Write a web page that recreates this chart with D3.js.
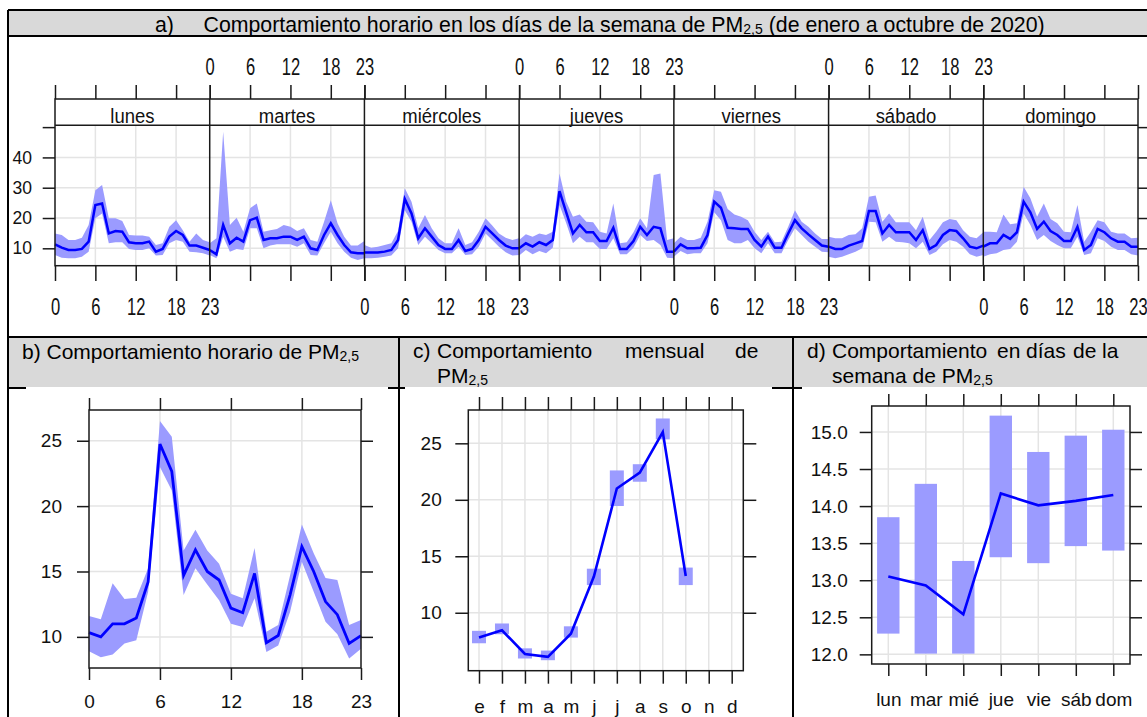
<!DOCTYPE html>
<html>
<head>
<meta charset="utf-8">
<script src="https://cdn.jsdelivr.net/npm/d3@7"></script>
<style>
body { margin: 0; background: #fff; }
svg { display: block; font-family: 'Liberation Sans', Arial, sans-serif; }
</style>
</head>
<body>
<svg id="fig" width="1147" height="717"></svg>
<script>
// ---- data ----
const dias = ["lunes", "martes", "miércoles", "jueves", "viernes", "sábado", "domingo"];
const hours = [0,1,2,3,4,5,6,7,8,9,10,11,12,13,14,15,16,17,18,19,20,21,22,23];
const hourTicks = [0, 6, 12, 18, 23];

// panel a: mean and confidence band per weekday (rows) and hour (cols)
const dayHourMean = [
  [11.3,10.2,9.45,9.45,9.8,12.2,24.3,24.8,14.9,15.7,15.5,12.0,11.65,11.65,12.2,8.9,9.8,13.85,15.7,14.4,10.9,10.9,10.2,9.45],
  [9.45,8.0,17.7,11.65,13.5,12.2,19.3,20.1,12.75,13.3,13.3,13.85,13.85,12.75,13.85,10.0,9.45,14.4,18.25,14.4,11.1,8.7,8.35,8.35],
  [8.6,8.6,8.6,8.9,9.45,12.75,26.3,21.5,13.3,16.6,13.85,11.1,9.8,9.8,12.75,9.1,9.8,12.75,17.1,14.9,12.75,10.9,10.0,10.0],
  [10.0,11.65,10.55,12.0,11.1,12.75,28.9,21.9,14.9,17.7,15.3,15.3,12.4,12.4,16.8,9.8,9.8,12.4,17.1,14.4,17.1,16.6,8.9,8.9],
  [8.9,11.3,10.0,10.0,10.2,14.4,25.4,23.4,16.8,16.6,16.4,16.4,12.75,10.55,13.85,10.2,10.2,14.9,19.3,16.6,14.6,12.75,10.9,10.55],
  [10.55,9.8,9.8,10.9,11.65,12.4,22.3,22.3,14.9,17.7,15.3,15.3,15.3,12.75,16.0,9.8,11.1,14.4,16.0,15.7,13.3,10.55,10.0,10.9],
  [10.55,11.65,11.65,14.4,13.1,15.3,25.4,21.9,16.4,18.8,15.7,14.4,12.4,12.4,17.1,9.45,11.1,16.4,15.3,13.3,12.2,12.2,10.55,10.55]
];
const dayHourLower = [
  [7.8,6.9,6.7,6.7,7.25,8.9,19.9,21.5,11.65,12.0,12.0,9.8,9.45,9.45,10.0,7.6,7.8,11.65,12.75,12.2,8.9,8.7,8.35,7.6],
  [7.8,6.7,13.85,8.9,9.8,9.45,16.6,16.6,10.0,10.9,11.3,11.3,11.3,10.55,11.65,7.8,7.6,11.65,15.5,11.65,8.9,6.9,6.15,6.7],
  [6.7,6.7,6.9,7.25,7.6,10.0,22.6,18.8,11.1,13.85,11.65,9.45,8.35,8.35,10.55,7.8,8.0,10.55,14.9,12.75,10.55,8.7,7.6,7.8],
  [7.6,9.45,8.0,9.1,8.35,10.2,24.3,18.25,11.65,13.85,12.0,12.0,9.8,9.8,13.3,8.0,8.0,10.2,14.4,12.4,12.75,11.1,6.9,6.7],
  [7.25,9.1,8.0,8.35,8.35,11.65,21.9,19.3,12.75,11.65,11.65,12.75,10.0,8.35,11.65,8.35,8.35,12.75,16.6,14.4,12.2,10.55,8.9,8.7],
  [7.25,6.7,7.25,8.0,8.9,10.0,18.8,18.6,12.2,13.85,12.2,12.0,11.65,10.0,12.2,7.8,8.9,11.3,12.75,12.2,10.55,8.0,7.25,7.8],
  [7.25,8.0,8.35,9.45,9.8,12.2,21.5,17.7,12.75,14.4,12.4,11.1,10.0,10.0,13.85,7.8,8.35,13.3,12.4,10.55,9.45,9.45,8.0,7.6]
];
const dayHourUpper = [
  [14.9,14.4,12.75,12.75,13.5,17.7,29.2,30.9,19.9,19.9,19.0,14.4,14.2,14.2,13.85,11.1,11.65,17.1,19.3,16.0,12.2,14.9,12.75,12.0],
  [11.65,13.3,48.5,17.7,20.1,15.5,23.2,24.8,15.5,16.0,16.4,17.7,17.1,15.7,16.6,12.75,12.2,18.8,25.9,18.25,13.85,10.9,10.9,12.4],
  [11.1,10.2,10.55,11.1,11.65,15.7,29.8,25.4,16.6,21.0,16.6,13.3,11.65,11.65,16.6,11.1,12.0,15.5,19.9,17.5,14.9,13.5,12.75,13.3],
  [12.75,14.6,13.85,14.9,14.4,15.5,34.7,25.4,20.4,21.2,18.8,18.6,15.5,14.9,24.8,11.65,12.0,15.3,19.9,16.6,34.2,34.7,12.75,13.3],
  [11.65,13.85,12.75,12.75,13.5,18.8,29.2,28.7,23.0,21.2,20.4,19.3,15.5,12.75,15.5,12.0,12.2,17.1,22.6,18.8,17.1,14.9,13.1,13.1],
  [13.85,13.3,13.3,14.4,14.6,16.6,27.0,27.4,18.8,21.5,18.6,18.6,18.6,16.0,20.4,12.75,15.5,18.6,19.7,19.3,16.0,13.85,13.3,15.3],
  [15.5,15.5,15.3,21.2,17.9,18.25,30.3,26.5,20.4,24.8,19.7,18.25,15.5,15.3,24.3,12.2,15.5,19.3,18.6,15.5,14.9,14.9,13.3,13.5]
];

// panel b: hourly
const hourMean  = [10.33,10.0,11.0,11.0,11.45,14.2,24.75,22.65,14.7,16.65,15.0,14.35,12.2,11.85,14.85,9.55,10.1,13.2,16.9,15.0,12.7,11.7,9.5,10.1];
const hourLower = [8.9,8.45,8.65,9.5,9.75,13.45,23.0,21.2,13.2,15.25,14.0,12.8,11.0,10.75,12.95,8.85,9.35,11.9,15.75,13.45,11.15,10.2,8.35,9.1];
const hourUpper = [11.6,11.35,14.1,12.9,13.0,15.25,26.5,25.3,16.6,18.2,16.6,15.6,13.3,12.95,16.8,10.4,10.9,14.7,18.6,16.4,14.5,14.35,10.9,11.3];

// panel c: monthly
const monthLabels = ["e","f","m","a","m","j","j","a","s","o","n","d"];
const monthIdx    = [0,1,2,3,4,5,6,7,8,9,10,11];
const monthMean   = [7.8,8.45,6.35,6.1,8.15,13.2,21.0,22.4,26.0,13.25,null,null];
const monthLower  = [7.3,8.1,5.95,5.8,7.8,12.45,19.45,21.6,25.35,12.45,null,null];
const monthUpper  = [8.4,9.05,6.85,6.65,8.8,13.9,22.6,23.15,27.2,14.0,null,null];

// panel d: weekday
const diaCorto  = ["lun","mar","mié","jue","vie","sáb","dom"];
const diaMean   = [13.05,12.93,12.54,14.17,14.01,14.07,14.15];
const diaLower  = [12.28,12.01,12.01,13.31,13.23,13.46,13.40];
const diaUpper  = [13.85,14.30,13.26,15.22,14.73,14.95,15.03];

const fillCI = "#9b9bff";
const lineCol = "#0000ff";
const gridCol = "#e4e4e4";
const ink = "#111";

const svg = d3.select("#fig");

// ---- frame of the figure table ----
svg.append("rect").attr("x", 8).attr("y", 10).attr("width", 1139).attr("height", 26).attr("fill", "#d9d9d9");
svg.append("rect").attr("x", 9).attr("y", 338).attr("width", 390).attr("height", 50).attr("fill", "#d9d9d9");
svg.append("rect").attr("x", 400).attr("y", 338).attr("width", 393).attr("height", 50).attr("fill", "#d9d9d9");
svg.append("rect").attr("x", 794).attr("y", 338).attr("width", 353).attr("height", 50).attr("fill", "#d9d9d9");

const frame = svg.append("g").attr("stroke", "#000").attr("stroke-width", 2);
[[8, 10, 1147, 10], [8, 36, 1147, 36], [8, 337, 1147, 337], [8, 388, 1147, 388]]
  .forEach(d => frame.append("line").attr("x1", d[0]).attr("y1", d[1]).attr("x2", d[2]).attr("y2", d[3]));

// the pasted chart images hide the line under the headers
svg.append("rect").attr("x", 26).attr("y", 387).attr("width", 362).attr("height", 330).attr("fill", "#fff");
svg.append("rect").attr("x", 405).attr("y", 387).attr("width", 367).attr("height", 330).attr("fill", "#fff");
svg.append("rect").attr("x", 802).attr("y", 387).attr("width", 345).attr("height", 330).attr("fill", "#fff");

[[8, 10, 8, 717], [399, 337, 399, 717], [793, 337, 793, 717]]
  .forEach(d => frame.append("line").attr("x1", d[0]).attr("y1", d[1]).attr("x2", d[2]).attr("y2", d[3]));

// header texts with PM2,5 subscript
function pmText(x, y, before, after, size = 21) {
  const t = svg.append("text").attr("x", x).attr("y", y).attr("font-size", size).attr("fill", "#000");
  t.append("tspan").text(before + "PM");
  t.append("tspan").attr("font-size", 14).attr("dy", 2).text("2,5");
  if (after) t.append("tspan").attr("dy", -2).text(after);
  return t;
}
svg.append("text").attr("x", 155).attr("y", 32).attr("font-size", 21.3).text("a)");
pmText(203.5, 32, "Comportamiento horario en los días de la semana de ", " (de enero a octubre de 2020)", 21.3);
pmText(22, 359, "b) Comportamiento horario de ", "");
[["c)", 413], ["Comportamiento", 437], ["mensual", 625], ["de", 735]]
  .forEach(d => svg.append("text").attr("x", d[1]).attr("y", 358).attr("font-size", 21).text(d[0]));
pmText(437, 383, "", "");
[["d)", 807], ["Comportamiento", 832], ["en", 997], ["días", 1026], ["de", 1073], ["la", 1102]]
  .forEach(d => svg.append("text").attr("x", d[1]).attr("y", 358).attr("font-size", 21).text(d[0]));
pmText(832, 383, "semana de ", "");

function styleAxis(g, size) {
  g.attr("font-size", null).attr("font-family", null);
  g.select(".domain").remove();
  g.selectAll("line").attr("stroke", "#1a1a1a").attr("stroke-width", 1.5);
  g.selectAll("text").attr("fill", ink).style("font-size", size + "px");
  return g;
}

// ---- panel a: hour x weekday ----
const A = { x0: 55, x1: 1138, strip: 99, y0: 125.3, y1: 265.7 };
const dayW = (A.x1 - A.x0) / 7;
const yA = d3.scaleLinear().domain([4.26, 50.6]).range([A.y1, A.y0]);

const gA = svg.append("g");
// horizontal grid
gA.selectAll(".hgrid").data([10, 20, 30, 40]).join("line")
  .attr("x1", A.x0).attr("x2", A.x1).attr("y1", d => yA(d)).attr("y2", d => yA(d))
  .attr("stroke", gridCol).attr("stroke-width", 1.5);

dias.forEach((dia, i) => {
  const x = d3.scaleLinear().domain([0, 23]).range([A.x0 + i * dayW, A.x0 + (i + 1) * dayW]);

  gA.selectAll(".vgrid" + i).data([6, 12, 18]).join("line")
    .attr("x1", d => x(d)).attr("x2", d => x(d)).attr("y1", A.y0).attr("y2", A.y1)
    .attr("stroke", gridCol).attr("stroke-width", 1.5);

  const area = d3.area().x(h => x(h)).y0(h => yA(dayHourLower[i][h])).y1(h => yA(dayHourUpper[i][h]));
  gA.append("path").datum(hours).attr("d", area).attr("fill", fillCI);

  const line = d3.line().x(h => x(h)).y(h => yA(dayHourMean[i][h]));
  gA.append("path").datum(hours).attr("d", line).attr("fill", "none")
    .attr("stroke", lineCol).attr("stroke-width", 2.5);

  // strip label
  gA.append("text").attr("transform", `translate(${x(11.5)},${116}) scale(0.88,1)`)
    .attr("text-anchor", "middle").attr("dy", "0.35em").attr("font-size", 21).attr("fill", ink).text(dia);

  // alternating tick labels (lattice style)
  const below = i % 2 === 0;
  const gb = svg.append("g").attr("transform", `translate(0,${A.y1})`)
    .call(d3.axisBottom(x).tickValues(hourTicks).tickSize(15.3).tickFormat(below ? d => d : ""));
  styleAxis(gb, 23).selectAll("text").attr("y", 41).attr("dy", "0.35em").attr("transform", "scale(0.72,1)");

  const gt = svg.append("g").attr("transform", `translate(0,${A.strip})`)
    .call(d3.axisTop(x).tickValues(hourTicks).tickSize(14).tickFormat(below ? "" : d => d));
  styleAxis(gt, 23).selectAll("text").attr("y", -32.3).attr("dy", "0.35em").attr("transform", "scale(0.72,1)");
});

// panel frames and strip
const fA = svg.append("g").attr("stroke", "#1a1a1a").attr("stroke-width", 1.5).attr("fill", "none");
fA.append("rect").attr("x", A.x0).attr("y", A.strip).attr("width", A.x1 - A.x0).attr("height", A.y1 - A.strip);
fA.append("line").attr("x1", A.x0).attr("x2", A.x1).attr("y1", A.y0).attr("y2", A.y0);
d3.range(1, 7).forEach(i => fA.append("line")
  .attr("x1", A.x0 + i * dayW).attr("x2", A.x0 + i * dayW).attr("y1", A.strip).attr("y2", A.y1));

const gl = svg.append("g").attr("transform", `translate(${A.x0},0)`)
  .call(d3.axisLeft(yA).tickValues([10, 20, 30, 40, 50]).tickSize(12.3).tickPadding(10.7)
    .tickFormat(d => d < 50 ? d : ""));
styleAxis(gl, 17.5);
const gr = svg.append("g").attr("transform", `translate(${A.x1},0)`)
  .call(d3.axisRight(yA).tickValues([10, 20, 30, 40, 50]).tickSize(12).tickFormat(""));
styleAxis(gr, 17.5);

// ---- helper for the small lattice panels ----
function panelFrame(box, x, y, xt, yt, xFmt, yFmt, tick, labelGap, yPad) {
  const by = svg.append("g").attr("transform", `translate(0,${box.y1})`)
    .call(d3.axisBottom(x).tickValues(xt).tickSize(tick).tickFormat(xFmt));
  styleAxis(by, 19).selectAll("text").attr("y", labelGap).attr("dy", "0.35em");
  styleAxis(svg.append("g").attr("transform", `translate(0,${box.y0})`)
    .call(d3.axisTop(x).tickValues(xt).tickSize(tick).tickFormat("")), 19);
  styleAxis(svg.append("g").attr("transform", `translate(${box.x0},0)`)
    .call(d3.axisLeft(y).tickValues(yt).tickSize(tick).tickPadding(yPad).tickFormat(yFmt)), 19);
  styleAxis(svg.append("g").attr("transform", `translate(${box.x1},0)`)
    .call(d3.axisRight(y).tickValues(yt).tickSize(tick).tickFormat("")), 19);
  svg.append("rect").attr("x", box.x0).attr("y", box.y0)
    .attr("width", box.x1 - box.x0).attr("height", box.y1 - box.y0)
    .attr("fill", "none").attr("stroke", "#1a1a1a").attr("stroke-width", 1.5);
}

function grid(g, box, x, y, xv, yv) {
  g.selectAll(".gx").data(xv).join("line")
    .attr("x1", d => x(d)).attr("x2", d => x(d)).attr("y1", box.y0).attr("y2", box.y1)
    .attr("stroke", gridCol).attr("stroke-width", 1.5);
  g.selectAll(".gy").data(yv).join("line")
    .attr("x1", box.x0).attr("x2", box.x1).attr("y1", d => y(d)).attr("y2", d => y(d))
    .attr("stroke", gridCol).attr("stroke-width", 1.5);
}

// ---- panel b: hourly ----
const B = { x0: 89, x1: 361, y0: 410, y1: 668 };
const xB = d3.scaleLinear().domain([0, 23]).range([B.x0, B.x1]);
const yB = d3.scaleLinear().domain([7.62, 27.35]).range([B.y1, B.y0]);
const gB = svg.append("g");
grid(gB, B, xB, yB, [6, 12, 18], [10, 15, 20, 25]);
gB.append("path").datum(hours)
  .attr("d", d3.area().x(h => xB(h)).y0(h => yB(hourLower[h])).y1(h => yB(hourUpper[h])))
  .attr("fill", fillCI);
gB.append("path").datum(hours)
  .attr("d", d3.line().x(h => xB(h)).y(h => yB(hourMean[h])))
  .attr("fill", "none").attr("stroke", lineCol).attr("stroke-width", 2.8);
panelFrame(B, xB, yB, hourTicks, [10, 15, 20, 25], d => d, d => d, 12, 33.7, 15);

// ---- panel c: monthly ----
const C = { x0: 468.3, x1: 743.3, y0: 410, y1: 670.7 };
const xC = d3.scaleLinear().domain([0, 11]).range([479, 731.7]);
const yC = d3.scaleLinear().domain([4.87, 27.95]).range([C.y1, C.y0]);
const gC = svg.append("g");
grid(gC, C, xC, yC, monthIdx, [10, 15, 20, 25]);
const monthsWithData = monthIdx.filter(i => monthMean[i] !== null);
gC.selectAll(".ci").data(monthsWithData).join("rect")
  .attr("x", i => xC(i) - 7).attr("width", 14)
  .attr("y", i => yC(monthUpper[i])).attr("height", i => yC(monthLower[i]) - yC(monthUpper[i]))
  .attr("fill", fillCI);
gC.append("path").datum(monthsWithData)
  .attr("d", d3.line().x(i => xC(i)).y(i => yC(monthMean[i])))
  .attr("fill", "none").attr("stroke", lineCol).attr("stroke-width", 2.6);
panelFrame(C, xC, yC, monthIdx, [10, 15, 20, 25], i => monthLabels[i], d => d, 13, 36, 13.6);

// ---- panel d: weekday ----
const D = { x0: 871.7, x1: 1130, y0: 406, y1: 664 };
const xD = d3.scalePoint().domain(diaCorto).range([888.3, 1113.3]);
const yD = d3.scaleLinear().domain([11.87, 15.35]).range([D.y1, D.y0]);
const yDticks = [12.0, 12.5, 13.0, 13.5, 14.0, 14.5, 15.0];
const gD = svg.append("g");
grid(gD, D, xD, yD, diaCorto, yDticks);
gD.selectAll(".ci").data(diaCorto).join("rect")
  .attr("x", d => xD(d) - 11.2).attr("width", 22.4)
  .attr("y", (d, i) => yD(diaUpper[i])).attr("height", (d, i) => yD(diaLower[i]) - yD(diaUpper[i]))
  .attr("fill", fillCI);
gD.append("path").datum(diaCorto)
  .attr("d", d3.line().x(d => xD(d)).y((d, i) => yD(diaMean[i])))
  .attr("fill", "none").attr("stroke", lineCol).attr("stroke-width", 2.6);
panelFrame(D, xD, yD, diaCorto, yDticks, d => d, d3.format(".1f"), 12, 35.3, 12);
</script>
</body>
</html>
